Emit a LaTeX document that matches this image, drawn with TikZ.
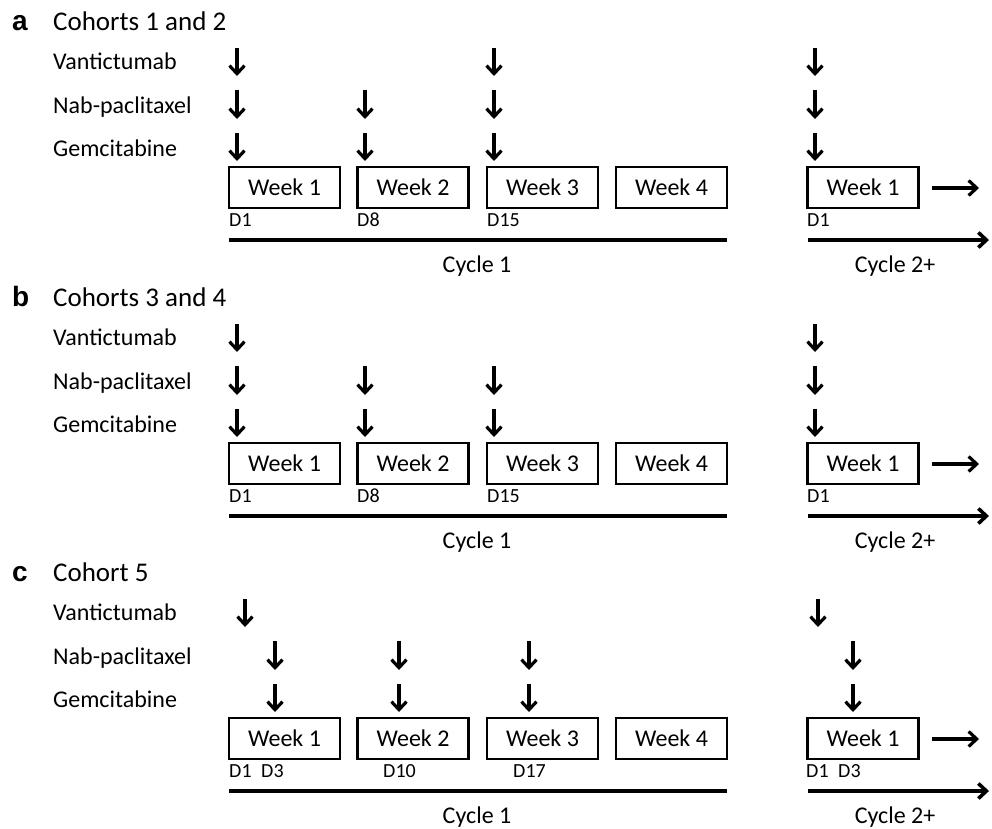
\documentclass[tikz,border=0pt]{standalone}
\usepackage{fontspec}
\setmainfont{Carlito}
\newfontfamily\lettfont{Liberation Sans}
\usetikzlibrary{arrows.meta}
\tikzset{
  wk/.style={draw, line width=2.8pt, minimum width=111pt, minimum height=41pt, inner sep=0pt, font=\fontsize{24}{28}\selectfont},
  drug/.style={anchor=base west, inner sep=0pt, font=\fontsize{24}{28}\selectfont},
  ttl/.style={anchor=base west, inner sep=0pt, font=\fontsize{27}{32}\selectfont},
  lett/.style={anchor=base west, inner sep=0pt, font=\lettfont\bfseries\fontsize{28}{32}\selectfont},
  dlab/.style={anchor=base west, inner sep=0pt, font=\fontsize{20}{24}\selectfont},
  cyc/.style={anchor=base, inner sep=0pt, font=\fontsize{24}{28}\selectfont},
  arr/.style={line width=3.2pt, -{Straight Barb[length=8pt,width=15pt]}},
  tl/.style={line width=3.6pt},
}
\newcommand\schedbase[3]{%
  \node[lett] (#1L) at (12,30) {#2};
  \node[ttl] (#1T) at (53,30) {#3};
  \node[drug] (#1V) at (53,69) {Vantictumab};
  \node[drug] (#1N) at (53,113) {Nab-paclitaxel};
  \node[drug] (#1G) at (53,156) {Gemcitabine};
  \node[wk] (#1w1) at (284.5,187.5) {Week 1};
  \node[wk] (#1w2) at (413,187.5) {Week 2};
  \node[wk] (#1w3) at (542.5,187.5) {Week 3};
  \node[wk] (#1w4) at (671.5,187.5) {Week 4};
  \node[wk] (#1c2) at (863,187.5) {Week 1};
  \coordinate (#1t1a) at (229,240);
  \coordinate (#1t1b) at (727,240);
  \coordinate (#1t2a) at (808,240);
  \coordinate (#1t2b) at (989,240);
  \coordinate (#1ca) at (932,188);
  \coordinate (#1cb) at (979,188);
  \draw[tl] (#1t1a) -- (#1t1b);
  \draw[tl, -{Straight Barb[length=8pt,width=15pt]}] (#1t2a) -- (#1t2b);
  \draw[arr] (#1ca) -- (#1cb);
  \node[cyc] (#1C1) at (477,272) {Cycle 1};
  \node[cyc] (#1C2) at (895,272) {Cycle 2+};
}
\newcommand\dosearrow[3]{% name, x, row (1,2,3)
  \ifcase#3\or
    \coordinate (#1a) at (#2,48); \coordinate (#1b) at (#2,76);\or
    \coordinate (#1a) at (#2,90); \coordinate (#1b) at (#2,119);\or
    \coordinate (#1a) at (#2,133); \coordinate (#1b) at (#2,161);\fi
  \draw[arr] (#1a) -- (#1b);
}
\begin{document}
\begin{tikzpicture}[x=1pt,y=-1pt]
\useasboundingbox (0,0) rectangle (992,828);
% panel a
\begin{scope}
  \schedbase{a}{a}{Cohorts 1 and 2}
  \dosearrow{aV1}{237}{1}
  \dosearrow{aN1}{237}{2}
  \dosearrow{aG1}{237}{3}
  \dosearrow{aN2}{365}{2}
  \dosearrow{aG2}{365}{3}
  \dosearrow{aV3}{494}{1}
  \dosearrow{aN3}{494}{2}
  \dosearrow{aG3}{494}{3}
  \dosearrow{aV4}{815}{1}
  \dosearrow{aN4}{815}{2}
  \dosearrow{aG4}{815}{3}
  \node[dlab] (aD1) at (229,226) {D1};
  \node[dlab] (aD8) at (357,226) {D8};
  \node[dlab] (aD15) at (487,226) {D15};
  \node[dlab] (aD1b) at (807,226) {D1};
\end{scope}
% panel b
\begin{scope}[yshift=-276pt]
  \schedbase{b}{b}{Cohorts 3 and 4}
  \dosearrow{bV1}{237}{1}
  \dosearrow{bN1}{237}{2}
  \dosearrow{bG1}{237}{3}
  \dosearrow{bN2}{365}{2}
  \dosearrow{bG2}{365}{3}
  \dosearrow{bN3}{494}{2}
  \dosearrow{bG3}{494}{3}
  \dosearrow{bV4}{815}{1}
  \dosearrow{bN4}{815}{2}
  \dosearrow{bG4}{815}{3}
  \node[dlab] (bD1) at (229,226) {D1};
  \node[dlab] (bD8) at (357,226) {D8};
  \node[dlab] (bD15) at (487,226) {D15};
  \node[dlab] (bD1b) at (807,226) {D1};
\end{scope}
% panel c
\begin{scope}[yshift=-551pt]
  \schedbase{c}{c}{Cohort 5}
  \dosearrow{cV1}{245}{1}
  \dosearrow{cN1}{275}{2}
  \dosearrow{cG1}{275}{3}
  \dosearrow{cN2}{399}{2}
  \dosearrow{cG2}{399}{3}
  \dosearrow{cN3}{529}{2}
  \dosearrow{cG3}{529}{3}
  \dosearrow{cV4}{818}{1}
  \dosearrow{cN4}{853}{2}
  \dosearrow{cG4}{853}{3}
  \node[dlab] (cD1) at (229,226) {D1};
  \node[dlab] (cD3) at (261,226) {D3};
  \node[dlab] (cD10) at (383,226) {D10};
  \node[dlab] (cD17) at (513,226) {D17};
  \node[dlab] (cD1b) at (806,226) {D1};
  \node[dlab] (cD3b) at (838,226) {D3};
\end{scope}
\end{tikzpicture}
\end{document}
